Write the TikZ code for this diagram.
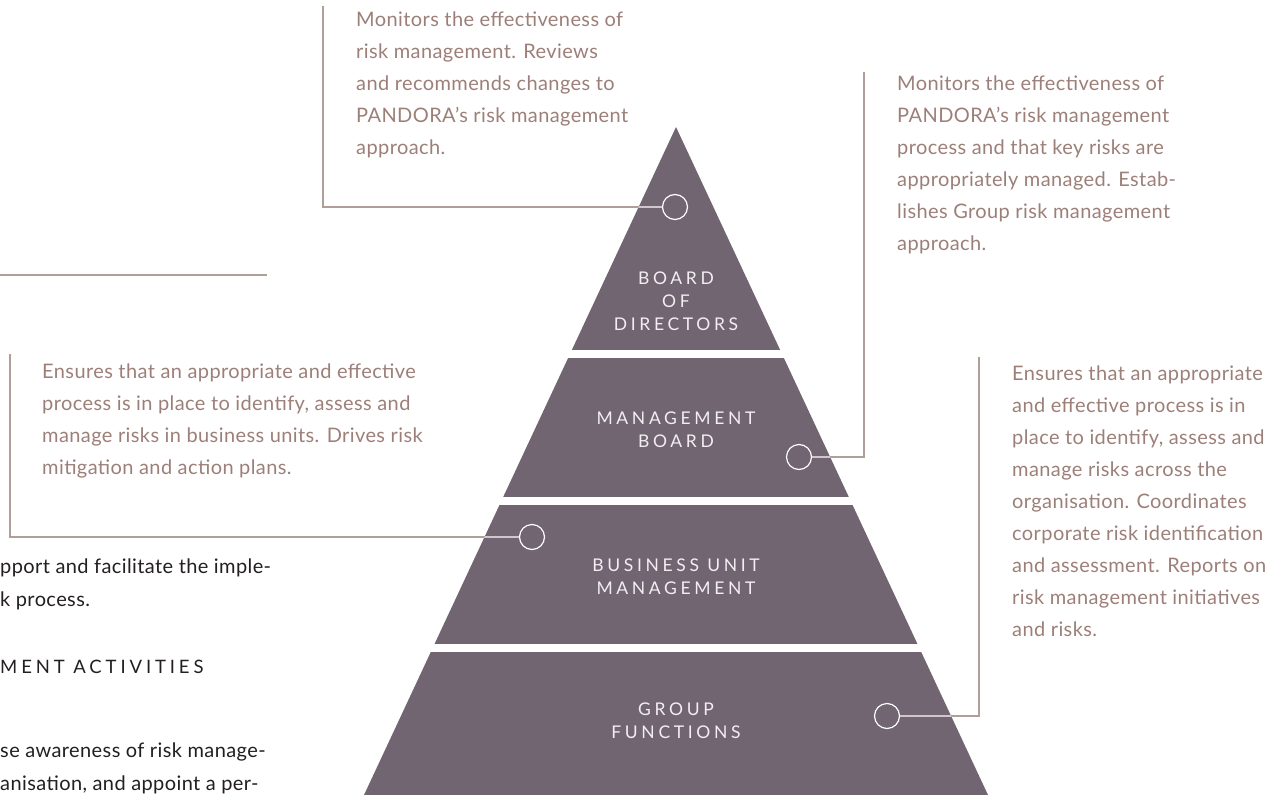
\documentclass[tikz,border=0pt]{standalone}
\usepackage{fontspec}
\setmainfont[LetterSpace=2]{Lato}
\newfontfamily\capfont[LetterSpace=21]{Lato}
\definecolor{pyr}{HTML}{716572}
\definecolor{desc}{HTML}{9C7F78}
\definecolor{conn}{HTML}{B29E98}
\definecolor{connin}{HTML}{CFC7CC}
\definecolor{lab}{HTML}{F2EEF2}
\definecolor{bodyc}{HTML}{231F20}
\begin{document}
\begin{tikzpicture}[x=1pt,y=-1pt,
  desctext/.style={anchor=north west, inner sep=0pt, align=left, text=desc, font=\fontsize{20}{32}\selectfont},
  bodytext/.style={anchor=north west, inner sep=0pt, align=left, text=bodyc, font=\fontsize{20}{33}\selectfont},
  layerlabel/.style={align=center, text=lab, inner sep=0pt, font=\capfont\fontsize{17.5}{23}\selectfont},
  ring/.style={circle, draw=white, line width=1.2pt, minimum size=25pt, inner sep=0pt},
  connline/.style={draw=conn, line width=1.2pt},
  conninner/.style={draw=connin, line width=1.2pt},
]
\useasboundingbox (0,0) rectangle (1288,795);
% pyramid
\coordinate (apex) at (676,127);
\coordinate (bl) at (364,795);
\coordinate (br) at (988,795);
\fill[pyr] (apex) -- (bl) -- (br) -- cycle;
% gaps between layers
\fill[white] (340,350) rectangle (1010,358);
\fill[white] (340,497) rectangle (1010,505);
\fill[white] (340,644) rectangle (1010,652);
% rings
\node[ring] (c1) at (675,207) {};
\node[ring] (c2) at (799,457) {};
\node[ring] (c3) at (532,537) {};
\node[ring] (c4) at (887,716) {};
% connector corners
\coordinate (k1) at (323,207); \coordinate (t1) at (323,6);
\coordinate (k2) at (864,457); \coordinate (t2) at (864,72);
\coordinate (k3) at (10,537);  \coordinate (t3) at (10,354);
\coordinate (k4) at (979,716); \coordinate (t4) at (979,357);
\coordinate (h1) at (0,275);   \coordinate (h2) at (267,275);
\draw[connline] (c1.west) -- (k1) -- (t1);
\draw[connline] (c2.east) -- (k2) -- (t2);
\draw[connline] (c3.west) -- (k3) -- (t3);
\draw[connline] (c4.east) -- (k4) -- (t4);
\draw[connline] (h1) -- (h2);
\begin{scope}
  \clip (apex) -- (bl) -- (br) -- cycle;
  \draw[conninner] (c1.west) -- (k1);
  \draw[conninner] (c2.east) -- (k2);
  \draw[conninner] (c3.west) -- (k3);
  \draw[conninner] (c4.east) -- (k4);
\end{scope}
% layer labels
\node[layerlabel] (l1) at (676,301) {BOARD\\OF\\DIRECTORS};
\node[layerlabel] (l2) at (676,430) {MANAGEMENT\\BOARD};
\node[layerlabel] (l3) at (676,577) {BUSINESS UNIT\\MANAGEMENT};
\node[layerlabel] (l4) at (676,721) {GROUP\\FUNCTIONS};
% descriptions
\node[desctext] (d1) at (356,11.5) {Monitors the effectiveness of\\risk management. Reviews\\and recommends changes to\\PANDORA’s risk management\\approach.};
\node[desctext] (d2) at (897,75.5) {Monitors the effectiveness of\\PANDORA’s risk management\\process and that key risks are\\appropriately managed. Estab-\\lishes Group risk management\\approach.};
\node[desctext] (d3) at (42,363.5) {Ensures that an appropriate and effective\\process is in place to identify, assess and\\manage risks in business units. Drives risk\\mitigation and action plans.};
\node[desctext] (d4) at (1012,365.5) {Ensures that an appropriate\\and effective process is in\\place to identify, assess and\\manage risks across the\\organisation. Coordinates\\corporate risk identification\\and assessment. Reports on\\risk management initiatives\\and risks.};
% body text at left (cropped)
\node[bodytext] (b1) at (0,558.5) {pport and facilitate the imple-\\k process.};
\node[bodytext, font=\capfont\fontsize{18.5}{23}\selectfont] (b2) at (0,659.5) {MENT ACTIVITIES};
\node[bodytext] (b3) at (0,742.5) {se awareness of risk manage-\\anisation, and appoint a per-};
\end{tikzpicture}
\end{document}
